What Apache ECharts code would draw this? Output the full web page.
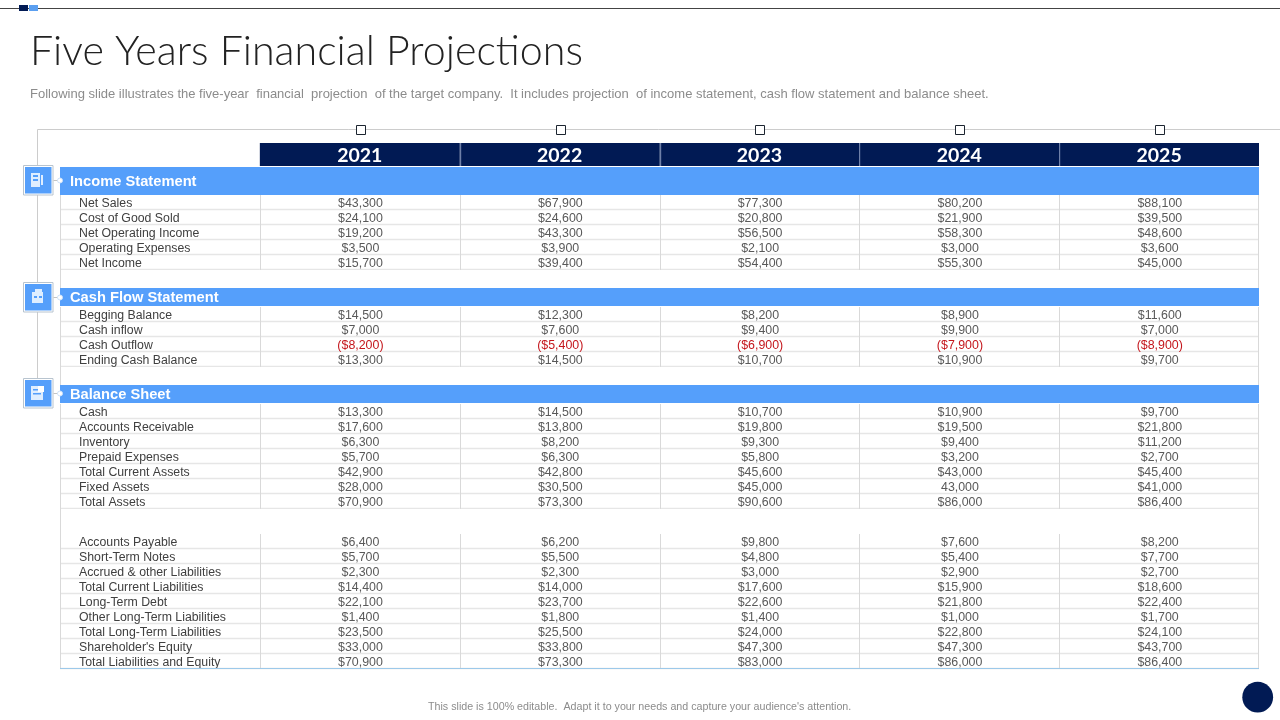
<!DOCTYPE html>
<html><head><meta charset="utf-8">
<style>html,body{margin:0;padding:0;background:#fff}#c{width:1280px;height:720px}</style>
<script src="https://cdn.jsdelivr.net/npm/echarts@6/dist/echarts.min.js"></script>
</head><body><div id="c"></div>
<script>
const years = ['2021','2022','2023','2024','2025'];
const titleText = 'Five Years Financial Projections';
const subtitleText = 'Following slide illustrates the five-year  financial  projection  of the target company.  It includes projection  of income statement, cash flow statement and balance sheet.';
const footerText = "This slide is 100% editable.  Adapt it to your needs and capture your audience's attention.";

const incomeLabels = ['Net Sales','Cost of Good Sold','Net Operating Income','Operating Expenses','Net Income'];
const income2021 = [43300,24100,19200,3500,15700];
const income2022 = [67900,24600,43300,3900,39400];
const income2023 = [77300,20800,56500,2100,54400];
const income2024 = [80200,21900,58300,3000,55300];
const income2025 = [88100,39500,48600,3600,45000];

const cashLabels = ['Begging Balance','Cash inflow','Cash Outflow','Ending Cash Balance'];
const cash2021 = [14500,7000,-8200,13300];
const cash2022 = [12300,7600,-5400,14500];
const cash2023 = [8200,9400,-6900,10700];
const cash2024 = [8900,9900,-7900,10900];
const cash2025 = [11600,7000,-8900,9700];

const assetLabels = ['Cash','Accounts Receivable','Inventory','Prepaid Expenses','Total Current Assets','Fixed Assets','Total Assets'];
const assets2021 = [13300,17600,6300,5700,42900,28000,70900];
const assets2022 = [14500,13800,8200,6300,42800,30500,73300];
const assets2023 = [10700,19800,9300,5800,45600,45000,90600];
const assets2024 = [10900,19500,9400,3200,43000,43000,86000];
const assets2025 = [9700,21800,11200,2700,45400,41000,86400];

const liabilityLabels = ['Accounts Payable','Short-Term Notes','Accrued & other Liabilities','Total Current Liabilities','Long-Term Debt','Other Long-Term Liabilities','Total Long-Term Liabilities',"Shareholder's Equity",'Total Liabilities and Equity'];
const liabilities2021 = [6400,5700,2300,14400,22100,1400,23500,33000,70900];
const liabilities2022 = [6200,5500,2300,14000,23700,1800,25500,33800,73300];
const liabilities2023 = [9800,4800,3000,17600,22600,1400,24000,47300,83000];
const liabilities2024 = [7600,5400,2900,15900,21800,1000,22800,47300,86000];
const liabilities2025 = [8200,7700,2700,18600,22400,1700,24100,43700,86400];

// cell shown in the source without a dollar sign
const plainCell = {year:'2024', label:'Fixed Assets'};

const NAVY='#011a54', BLUE='#559FFB', LINE='#e6e6e6', VLINE='#d9d9d9', TXT='#404040', VAL='#595959';
const BODY='"Liberation Sans", Arial, sans-serif';

function fmt(v,yr,label){
  const s=Math.abs(v).toLocaleString('en-US');
  if(v<0) return '($'+s+')';
  if(yr===plainCell.year && label===plainCell.label) return s;
  return '$'+s;
}
const H_YEAR=24,H_ROW=15,H_GAP=18;
const cells=[]; let y=0;
function addSection(title,h,labels,cols,gapAfter){
  if(title){cells.push([0,y,y+h,title,'section']);y+=h;}
  labels.forEach((l,i)=>{
    cells.push([0,y,y+H_ROW,l,'label']);
    cols.forEach((c,j)=>cells.push([j+1,y,y+H_ROW,fmt(c[i],years[j],l),c[i]<0?'neg':'val']));
    y+=H_ROW;
  });
  if(gapAfter){cells.push([0,y,y+gapAfter,'','gap']);y+=gapAfter;}
}
years.forEach((yr,j)=>cells.push([j+1,0,H_YEAR,'','year']));
y=H_YEAR;
addSection('Income Statement',28,incomeLabels,[income2021,income2022,income2023,income2024,income2025],H_GAP);
addSection('Cash Flow Statement',19,cashLabels,[cash2021,cash2022,cash2023,cash2024,cash2025],H_GAP);
addSection('Balance Sheet',19,assetLabels,[assets2021,assets2022,assets2023,assets2024,assets2025],25);
addSection('',0,liabilityLabels,[liabilities2021,liabilities2022,liabilities2023,liabilities2024,liabilities2025],0);
const totalH=y;

function renderCell(params,api){
  const col=api.value(0), top=api.coord([col,api.value(1)]), bot=api.coord([col,api.value(2)]);
  const w=api.size([1,0])[0], x0=top[0]-w/2, y0=top[1], y1=bot[1];
  const kind=cells[params.dataIndex][4], text=cells[params.dataIndex][3];
  const kids=[];
  const tableW=w*6;
  if(kind==='year'){
    kids.push({type:'rect',shape:{x:x0,y:y0,width:w,height:y1-y0-1},style:{fill:NAVY}});
    if(col>1) kids.push({type:'rect',shape:{x:Math.round(x0),y:y0,width:1.2,height:y1-y0-1},style:{fill:'#6f80a8'}});
  } else if(kind==='section'){
    const tall=y1-y0>25;
    kids.push({type:'rect',shape:{x:x0,y:y0,width:tableW,height:y1-y0-(tall?0:1)},style:{fill:BLUE}});
    kids.push({type:'text',style:{x:x0+10,y:(y0+y1)/2+(tall?1:0.5),text,fill:'#fff',font:'bold 14.7px '+BODY,align:'left',verticalAlign:'middle'}});
  } else if(kind==='gap'){
    kids.push({type:'rect',shape:{x:x0+0.5,y:y0,width:tableW-1,height:y1-y0},style:{fill:'#fff'}});
    kids.push({type:'line',shape:{x1:x0+0.5,y1:y0,x2:x0+0.5,y2:y1},style:{stroke:VLINE,lineWidth:1}});
    kids.push({type:'line',shape:{x1:x0+tableW-0.5,y1:y0,x2:x0+tableW-0.5,y2:y1},style:{stroke:VLINE,lineWidth:1}});
  } else {
    const gy=Math.round(y1)-0.5;
    kids.push({type:'line',shape:{x1:x0,y1:gy,x2:x0+w,y2:gy},style:{stroke:LINE,lineWidth:1.6}});
    const vx=Math.round(x0)+0.5;
    kids.push({type:'line',shape:{x1:vx,y1:y0,x2:vx,y2:y1},style:{stroke:VLINE,lineWidth:1}});
    if(col===5) kids.push({type:'line',shape:{x1:x0+w-0.5,y1:y0,x2:x0+w-0.5,y2:y1},style:{stroke:VLINE,lineWidth:1}});
    if(kind==='label') kids.push({type:'text',style:{x:x0+19,y:(y0+y1)/2+1,text,fill:TXT,font:'12.3px '+BODY,align:'left',verticalAlign:'middle'}});
    else kids.push({type:'text',style:{x:x0+w/2+0.7,y:(y0+y1)/2+1,text,fill:kind==='neg'?'#c4161c':VAL,font:'12.4px '+BODY,align:'center',verticalAlign:'middle'}});
  }
  return {type:'group',children:kids};
}

function iconBox(top,glyph){
  const l=23,s=29.5;
  const out=[
    {type:'rect',shape:{x:l+0.5,y:top+0.5,width:s,height:s},style:{fill:'#fff',stroke:'#b8c4cf',lineWidth:1}},
    {type:'rect',shape:{x:l+2,y:top+2,width:s-3,height:s-3},style:{fill:BLUE}},
    {type:'line',shape:{x1:l+s+1,y1:top+15.5,x2:60,y2:top+15.5},style:{stroke:'#c4c4c4',lineWidth:1}},
    {type:'circle',shape:{cx:60,cy:top+15.5,r:2.5},style:{fill:'#fff',stroke:'#cfe2f8',lineWidth:1}}
  ];
  glyph.forEach(g=>out.push({type:'rect',shape:{x:l+g[0],y:top+g[1],width:g[2],height:g[3]},style:{fill:g[4]||'#fff'}}));
  return out;
}
const decor=[
  {type:'line',shape:{x1:0,y1:8.5,x2:1280,y2:8.5},style:{stroke:'#444',lineWidth:1}},
  {type:'rect',shape:{x:19,y:5,width:9,height:6},style:{fill:NAVY}},
  {type:'rect',shape:{x:29,y:5,width:9,height:6},style:{fill:'#5b9ff0'}},
  {type:'line',shape:{x1:37.5,y1:129.5,x2:1280,y2:129.5},style:{stroke:'#cccccc',lineWidth:1}},
  {type:'line',shape:{x1:37.5,y1:129.5,x2:37.5,y2:380},style:{stroke:'#cccccc',lineWidth:1}},
  {type:'line',shape:{x1:60,y1:668.5,x2:1259,y2:668.5},style:{stroke:'#9cc9ea',lineWidth:1.2}},
  {type:'circle',shape:{cx:1257.7,cy:697.2,r:15.4},style:{fill:NAVY}}
];
[361,561,760,960,1160].forEach(cx=>decor.push({type:'rect',shape:{x:cx-4.5,y:125.5,width:9,height:9},style:{fill:'#fff',stroke:'#1c2530',lineWidth:1}}));
decor.push(...iconBox(165,[[8,8,9,14,'#dfeeff'],[10,10,5,2,BLUE],[10,14,5,2,BLUE],[18,10,2,10,'#dfeeff']]));
decor.push(...iconBox(282,[[9,10,11,11,'#dfeeff'],[12,7,7,5,'#dfeeff'],[11,14,3,2,BLUE],[16,14,3,2,BLUE]]));
decor.push(...iconBox(378,[[8,8,12,14,'#dfeeff'],[10,11,6,1.5,BLUE],[10,15,8,1.5,BLUE],[15,8,6,6,'#ffffff']]));
decor.forEach(d=>{d.z=100;});

const chart=echarts.init(document.getElementById('c'),null,{renderer:'canvas',width:1280,height:720});
chart.setOption({
  animation:false,
  backgroundColor:'#fff',
  title:[
    {text:titleText,left:30,top:31,padding:0,textStyle:{fontFamily:'Lato',fontWeight:300,fontSize:41.2,color:'#222222'}},
    {text:subtitleText,left:30,top:87.5,padding:0,textStyle:{fontFamily:'"Liberation Sans"',fontWeight:'normal',fontSize:13,color:'#8c8c8c'}},
    {text:footerText,left:428,top:701.5,padding:0,textStyle:{fontFamily:'"Liberation Sans"',fontWeight:'normal',fontSize:10.7,color:'#8c8c8c'}}
  ],
  grid:{left:60,right:21,top:143,height:526,containLabel:false},
  xAxis:{type:'category',position:'top',data:[''].concat(years),z:10,
    axisLine:{show:false},axisTick:{show:false},splitLine:{show:false},
    axisLabel:{inside:true,interval:0,margin:3,color:'#fff',fontFamily:'Lato',fontWeight:'bold',fontSize:19.5}},
  yAxis:{type:'value',inverse:true,min:0,max:totalH,show:false},
  series:[{type:'custom',coordinateSystem:'cartesian2d',clip:false,data:cells,renderItem:renderCell,
    encode:{x:0,y:[1,2]},silent:true}],
  graphic:{elements:decor}
});
</script></body></html>
